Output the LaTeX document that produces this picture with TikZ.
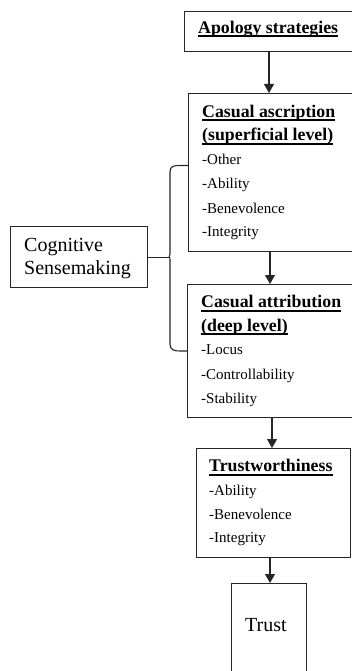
\documentclass[tikz,border=0pt]{standalone}
\usepackage{fontspec}
\setmainfont{Liberation Serif}
\usetikzlibrary{arrows.meta}
\begin{document}
\begin{tikzpicture}[x=1pt,y=-1pt,
  box/.style={draw=black!85, line width=1.1pt, rectangle, inner sep=0pt, anchor=north west},
  arr/.style={draw=black!85, line width=1.1pt, -{Triangle[length=9pt,width=10pt]}},
  txt/.style={inner sep=0pt, anchor=base west, font=\fontsize{15}{18}\selectfont},
  hd/.style={inner sep=0pt, anchor=base west, font=\fontsize{17.8}{20}\selectfont\bfseries},
  big/.style={inner sep=0pt, anchor=base west, font=\fontsize{20}{24}\selectfont},
  ul/.style={draw=black, line width=1.6pt},
  brace/.style={draw=black!85, line width=1.1pt}]
\clip (0,0) rectangle (352,671);
% boxes
\node[box, minimum width=176pt, minimum height=40pt] (b1) at (184,11) {};
\node[box, minimum width=172pt, minimum height=158pt] (b2) at (188,93) {};
\node[box, minimum width=173pt, minimum height=133pt] (b3) at (187,284) {};
\node[box, minimum width=154pt, minimum height=109pt] (b4) at (196,448) {};
\node[box, minimum width=75pt, minimum height=100pt] (b5) at (231,583) {};
\node[box, minimum width=137pt, minimum height=61pt] (cog) at (10,226) {};
% texts box 1
\node[hd] (h1) at (198,33.3) {Apology strategies};
\draw[ul] ([yshift=-3pt]h1.base west) -- ([yshift=-3pt]h1.base east);
% box 2
\node[hd] (h2a) at (202,117.3) {Casual ascription};
\node[hd] (h2b) at (202,141) {(superficial level)};
\draw[ul] ([yshift=-3pt]h2a.base west) -- ([yshift=-3pt]h2a.base east);
\draw[ul] ([yshift=-3pt]h2b.base west) -- ([yshift=-3pt]h2b.base east);
\node[txt] (l2a) at (202,164.3) {-Other};
\node[txt] (l2b) at (202,189) {-Ability};
\node[txt] (l2c) at (202,213) {-Benevolence};
\node[txt] (l2d) at (202,236.7) {-Integrity};
% box 3
\node[hd] (h3a) at (201,307.7) {Casual attribution};
\node[hd] (h3b) at (201,331) {(deep level)};
\draw[ul] ([yshift=-3pt]h3a.base west) -- ([yshift=-3pt]h3a.base east);
\draw[ul] ([yshift=-3pt]h3b.base west) -- ([yshift=-3pt]h3b.base east);
\node[txt] (l3a) at (201,354) {-Locus};
\node[txt] (l3b) at (201,379) {-Controllability};
\node[txt] (l3c) at (201,403) {-Stability};
% box 4
\node[hd] (h4) at (209,471.7) {Trustworthiness};
\draw[ul] ([yshift=-3pt]h4.base west) -- ([yshift=-3pt]h4.base east);
\node[txt] (l4a) at (209,495) {-Ability};
\node[txt] (l4b) at (209,519) {-Benevolence};
\node[txt] (l4c) at (209,542) {-Integrity};
% box 5
\node[big] (t5) at (245,631) {Trust};
% cognitive
\node[big] (c1) at (24,251.7) {Cognitive};
\node[big] (c2) at (24,274) {Sensemaking};
% arrows
\coordinate (ax1) at (269,0);
\coordinate (ax2) at (270,0);
\coordinate (ax3) at (272,0);
\coordinate (ax4) at (270,0);
\draw[arr] (b1.south -| ax1) -- (b2.north -| ax1);
\draw[arr] (b2.south -| ax2) -- (b3.north -| ax2);
\draw[arr] (b3.south -| ax3) -- (b4.north -| ax3);
\draw[arr] (b4.south -| ax4) -- (b5.north -| ax4);
% brace
\coordinate (bcx) at (169,0);
\coordinate (bt) at (188,165.5);
\coordinate (bb) at (188,351);
\draw[brace] (cog.east) -- (cog.east -| bcx) coordinate (bc);
\draw[brace] (bc) .. controls (170,255.5) .. (170,251) -- (170,172)
  .. controls (170,166) and (174,165.5) .. (180,165.5) -- (bt);
\draw[brace] (bc) .. controls (170,257.5) .. (170,262) -- (170,344)
  .. controls (170,350) and (174,351) .. (180,351) -- (bb);
\end{tikzpicture}
\end{document}
